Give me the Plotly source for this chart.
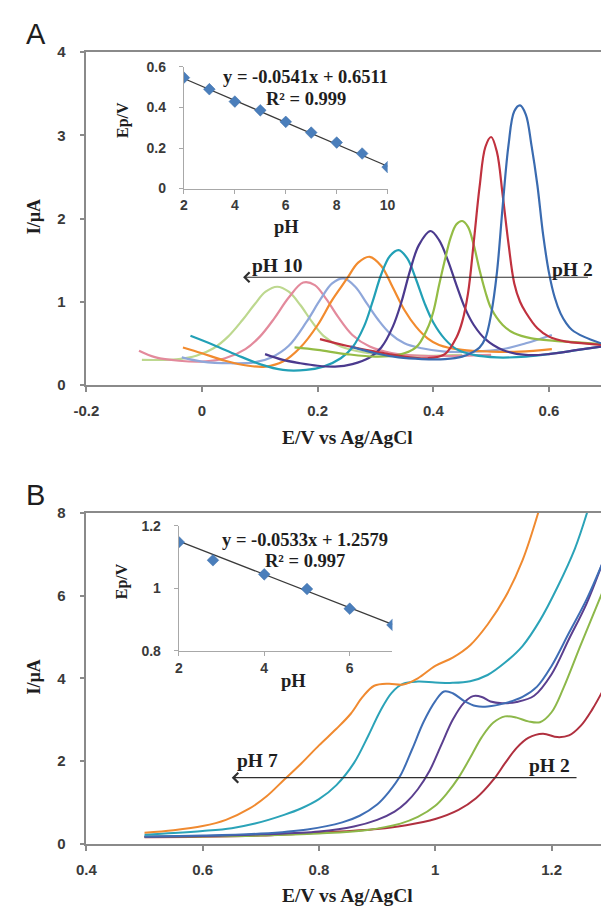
import plotly.graph_objects as go

W, H = 609, 914

# ---------------- Panel A : DPV at pH 2 ... 10 ----------------
a_ph2_E = [0.257, 0.30, 0.34, 0.38, 0.42, 0.45, 0.47, 0.48, 0.49, 0.50, 0.51, 0.52, 0.53, 0.54, 0.55, 0.56, 0.57, 0.58, 0.59, 0.60, 0.61, 0.62, 0.63, 0.64, 0.66, 0.69]
a_ph2_I = [0.46, 0.38, 0.33, 0.31, 0.31, 0.34, 0.40, 0.45, 0.56, 0.85, 1.35, 2.15, 2.88, 3.29, 3.36, 3.25, 2.87, 2.40, 1.80, 1.35, 1.05, 0.86, 0.74, 0.66, 0.58, 0.50]

a_ph3_E = [0.204, 0.25, 0.30, 0.35, 0.39, 0.42, 0.44, 0.45, 0.46, 0.47, 0.48, 0.49, 0.50, 0.51, 0.52, 0.53, 0.54, 0.55, 0.56, 0.58, 0.60, 0.63, 0.66, 0.69]
a_ph3_I = [0.55, 0.47, 0.40, 0.34, 0.32, 0.37, 0.57, 0.76, 1.10, 1.72, 2.38, 2.86, 2.98, 2.80, 2.28, 1.70, 1.22, 1.00, 0.87, 0.68, 0.58, 0.52, 0.50, 0.48]

a_ph4_E = [0.16, 0.20, 0.25, 0.30, 0.34, 0.37, 0.39, 0.40, 0.41, 0.42, 0.43, 0.44, 0.45, 0.46, 0.47, 0.48, 0.49, 0.50, 0.52, 0.54, 0.57, 0.61, 0.65, 0.69]
a_ph4_I = [0.45, 0.42, 0.37, 0.34, 0.36, 0.45, 0.68, 0.88, 1.20, 1.50, 1.77, 1.93, 1.97, 1.90, 1.68, 1.38, 1.12, 0.92, 0.72, 0.62, 0.56, 0.53, 0.51, 0.49]

a_ph5_E = [0.109, 0.14, 0.17, 0.20, 0.23, 0.26, 0.29, 0.31, 0.33, 0.345, 0.36, 0.375, 0.395, 0.41, 0.425, 0.44, 0.455, 0.47, 0.49, 0.52, 0.56, 0.60, 0.65, 0.69]
a_ph5_I = [0.37, 0.30, 0.26, 0.23, 0.22, 0.25, 0.33, 0.45, 0.70, 1.00, 1.38, 1.68, 1.85, 1.74, 1.50, 1.20, 0.92, 0.72, 0.55, 0.42, 0.36, 0.37, 0.42, 0.46]

a_ph6_E = [-0.02, 0.02, 0.06, 0.10, 0.14, 0.18, 0.21, 0.24, 0.26, 0.28, 0.295, 0.31, 0.325, 0.34, 0.355, 0.37, 0.385, 0.40, 0.42, 0.44, 0.47, 0.51, 0.56, 0.61, 0.65, 0.69]
a_ph6_I = [0.59, 0.48, 0.36, 0.25, 0.18, 0.18, 0.22, 0.32, 0.45, 0.70, 1.00, 1.33, 1.55, 1.62, 1.52, 1.27, 0.98, 0.75, 0.55, 0.43, 0.36, 0.33, 0.34, 0.38, 0.42, 0.46]

a_ph7_E = [-0.033, 0.0, 0.04, 0.08, 0.11, 0.14, 0.17, 0.20, 0.225, 0.25, 0.27, 0.29, 0.31, 0.33, 0.35, 0.37, 0.39, 0.41, 0.45, 0.50, 0.55, 0.605]
a_ph7_I = [0.45, 0.38, 0.29, 0.23, 0.22, 0.28, 0.45, 0.72, 1.02, 1.27, 1.47, 1.54, 1.43, 1.17, 0.90, 0.70, 0.56, 0.48, 0.42, 0.40, 0.40, 0.43]

a_ph8_E = [-0.035, 0.0, 0.05, 0.09, 0.12, 0.15, 0.18, 0.205, 0.225, 0.245, 0.265, 0.285, 0.305, 0.325, 0.35, 0.38, 0.42, 0.47, 0.52, 0.56, 0.605]
a_ph8_I = [0.33, 0.28, 0.26, 0.27, 0.33, 0.47, 0.75, 1.03, 1.22, 1.28, 1.18, 0.98, 0.78, 0.62, 0.50, 0.44, 0.40, 0.40, 0.43, 0.50, 0.60]

a_ph9_E = [-0.109, -0.08, -0.04, 0.0, 0.04, 0.075, 0.10, 0.125, 0.15, 0.175, 0.195, 0.215, 0.235, 0.26, 0.29, 0.33, 0.38, 0.45, 0.50]
a_ph9_I = [0.41, 0.33, 0.29, 0.28, 0.32, 0.43, 0.58, 0.80, 1.05, 1.23, 1.20, 1.03, 0.82, 0.60, 0.46, 0.38, 0.35, 0.35, 0.36]

a_ph10_E = [-0.104, -0.07, -0.04, -0.01, 0.02, 0.045, 0.07, 0.09, 0.11, 0.13, 0.15, 0.17, 0.19, 0.21, 0.24, 0.28, 0.33, 0.40, 0.45]
a_ph10_I = [0.30, 0.30, 0.31, 0.35, 0.44, 0.58, 0.78, 0.96, 1.12, 1.18, 1.12, 0.96, 0.76, 0.59, 0.46, 0.39, 0.36, 0.35, 0.36]

a_curves = [
    (a_ph10_E, a_ph10_I, "#BDD88F"),
    (a_ph9_E, a_ph9_I, "#E38A9C"),
    (a_ph8_E, a_ph8_I, "#8FA7DA"),
    (a_ph7_E, a_ph7_I, "#F28B2E"),
    (a_ph6_E, a_ph6_I, "#22A0B6"),
    (a_ph5_E, a_ph5_I, "#4B3A8E"),
    (a_ph4_E, a_ph4_I, "#94BC45"),
    (a_ph3_E, a_ph3_I, "#C0323F"),
    (a_ph2_E, a_ph2_I, "#3A6BB0"),
]

# Inset A: peak potential vs pH
inset_a_ph = [2, 3, 4, 5, 6, 7, 8, 9, 10]
inset_a_ep = [0.547, 0.49, 0.429, 0.386, 0.329, 0.276, 0.227, 0.173, 0.106]
inset_a_slope, inset_a_intercept, inset_a_r2 = -0.0541, 0.6511, 0.999

# ---------------- Panel B : LSV at pH 2 ... 7 ----------------
b_ph7_E = [0.50, 0.55, 0.60, 0.64, 0.68, 0.71, 0.74, 0.77, 0.80, 0.83, 0.855, 0.875, 0.895, 0.92, 0.945, 0.97, 1.00, 1.03, 1.06, 1.09, 1.12, 1.15, 1.177]
b_ph7_I = [0.27, 0.33, 0.43, 0.58, 0.85, 1.15, 1.55, 1.95, 2.38, 2.78, 3.15, 3.55, 3.82, 3.87, 3.85, 4.00, 4.30, 4.50, 4.80, 5.30, 5.95, 6.85, 8.0]

b_ph6_E = [0.50, 0.55, 0.60, 0.65, 0.69, 0.74, 0.77, 0.80, 0.83, 0.86, 0.885, 0.905, 0.925, 0.945, 0.97, 1.00, 1.03, 1.06, 1.09, 1.12, 1.15, 1.18, 1.21, 1.24, 1.261]
b_ph6_I = [0.22, 0.26, 0.31, 0.38, 0.49, 0.70, 0.86, 1.08, 1.42, 1.95, 2.62, 3.20, 3.65, 3.87, 3.92, 3.90, 3.89, 3.93, 4.08, 4.38, 4.78, 5.40, 6.20, 7.13, 8.0]

b_ph5_E = [0.50, 0.60, 0.70, 0.78, 0.84, 0.87, 0.90, 0.92, 0.94, 0.96, 0.98, 1.00, 1.015, 1.03, 1.05, 1.07, 1.09, 1.12, 1.15, 1.175, 1.20, 1.23, 1.26, 1.288]
b_ph5_I = [0.18, 0.20, 0.25, 0.35, 0.52, 0.68, 0.95, 1.25, 1.65, 2.28, 2.95, 3.45, 3.68, 3.64, 3.45, 3.33, 3.32, 3.40, 3.55, 3.80, 4.30, 5.10, 5.90, 6.80]

b_ph4_E = [0.50, 0.60, 0.70, 0.80, 0.86, 0.90, 0.93, 0.95, 0.97, 0.99, 1.01, 1.03, 1.05, 1.065, 1.08, 1.095, 1.115, 1.14, 1.17, 1.20, 1.23, 1.26, 1.288]
b_ph4_I = [0.17, 0.19, 0.23, 0.30, 0.42, 0.58, 0.78, 1.00, 1.32, 1.76, 2.38, 3.00, 3.42, 3.57, 3.55, 3.44, 3.40, 3.43, 3.58, 4.10, 4.95, 5.80, 6.80]

b_ph3_E = [0.50, 0.60, 0.70, 0.80, 0.88, 0.94, 0.97, 1.00, 1.02, 1.04, 1.06, 1.08, 1.10, 1.12, 1.14, 1.16, 1.18, 1.20, 1.22, 1.25, 1.288]
b_ph3_I = [0.17, 0.18, 0.20, 0.25, 0.33, 0.49, 0.65, 0.92, 1.22, 1.60, 2.08, 2.58, 2.93, 3.08, 3.05, 2.96, 2.94, 3.18, 3.75, 4.80, 6.10]

b_ph2_E = [0.50, 0.60, 0.70, 0.80, 0.90, 0.95, 1.00, 1.04, 1.07, 1.10, 1.12, 1.14, 1.16, 1.185, 1.21, 1.23, 1.25, 1.27, 1.288]
b_ph2_I = [0.16, 0.17, 0.20, 0.27, 0.36, 0.45, 0.60, 0.82, 1.10, 1.55, 1.95, 2.32, 2.56, 2.66, 2.58, 2.62, 2.85, 3.25, 3.70]

b_curves = [
    (b_ph2_E, b_ph2_I, "#B0303F"),
    (b_ph3_E, b_ph3_I, "#8DB84A"),
    (b_ph4_E, b_ph4_I, "#5B3F8F"),
    (b_ph5_E, b_ph5_I, "#3F6EB5"),
    (b_ph6_E, b_ph6_I, "#2BA3B8"),
    (b_ph7_E, b_ph7_I, "#F08A30"),
]

# Inset B: peak potential vs pH
inset_b_ph = [2, 2.8, 4, 5, 6, 7]
inset_b_ep = [1.148, 1.09, 1.045, 0.998, 0.935, 0.883]
inset_b_slope, inset_b_intercept, inset_b_r2 = -0.0533, 1.2579, 0.997


def px(x):
    return x / W


def py(y):
    return 1 - y / H


fig = go.Figure()

for e, i, c in a_curves:
    fig.add_trace(go.Scatter(x=e, y=i, mode="lines", xaxis="x", yaxis="y",
                             line=dict(color=c, width=2.2, shape="spline", smoothing=1.0),
                             showlegend=False, hoverinfo="skip"))

for e, i, c in b_curves:
    fig.add_trace(go.Scatter(x=e, y=i, mode="lines", xaxis="x2", yaxis="y2",
                             line=dict(color=c, width=2, shape="spline", smoothing=1.0),
                             showlegend=False, hoverinfo="skip"))

# insets: trend line from the stated regression, then the measured points
for ph, ep, slope, icpt, xa, ya in [
    (inset_a_ph, inset_a_ep, inset_a_slope, inset_a_intercept, "x3", "y3"),
    (inset_b_ph, inset_b_ep, inset_b_slope, inset_b_intercept, "x4", "y4"),
]:
    xs = [min(ph), max(ph)]
    fig.add_trace(go.Scatter(x=xs, y=[slope * v + icpt for v in xs], mode="lines",
                             xaxis=xa, yaxis=ya, line=dict(color="#3a3a3a", width=1.3),
                             showlegend=False, hoverinfo="skip"))
    fig.add_trace(go.Scatter(x=ph, y=ep, mode="markers", xaxis=xa, yaxis=ya,
                             marker=dict(symbol="diamond", size=9, color="#4A7EBB",
                                         line=dict(color="#3B6DA8", width=0.5)),
                             showlegend=False, hoverinfo="skip"))

tick_font = dict(family="Liberation Sans", size=15, color="#3a3a3a", weight="bold")
inset_tick_font = dict(family="Liberation Sans", size=14, color="#3a3a3a", weight="bold")
axis_common = dict(showgrid=False, zeroline=False, showline=True, linecolor="#8a8a8a",
                   linewidth=1.5, ticks="outside", ticklen=5, tickcolor="#8a8a8a",
                   tickwidth=1.5, tickfont=tick_font)
inset_common = dict(showgrid=False, zeroline=False, showline=True, linecolor="#a8a8a8",
                    linewidth=1.2, ticks="outside", ticklen=4, tickcolor="#a8a8a8",
                    tickwidth=1.2, tickfont=inset_tick_font)

fig.update_layout(
    width=W, height=H, margin=dict(l=0, r=0, t=0, b=0),
    paper_bgcolor="white", plot_bgcolor="white",
    xaxis=dict(axis_common, domain=[px(76), 1], range=[-0.2, 0.69], anchor="y",
               tickvals=[-0.2, 0, 0.2, 0.4, 0.6], ticktext=["-0.2", "0", "0.2", "0.4", "0.6"],
               mirror=True, ticklabelstandoff=6),
    yaxis=dict(axis_common, domain=[py(383), py(44)], range=[0, 4], anchor="x",
               tickvals=[0, 1, 2, 3, 4], ticklabelstandoff=11),
    xaxis2=dict(axis_common, domain=[px(76), 1], range=[0.4, 1.285], anchor="y2",
                tickvals=[0.4, 0.6, 0.8, 1.0, 1.2], ticktext=["0.4", "0.6", "0.8", "1", "1.2"],
                mirror=True, ticklabelstandoff=6),
    yaxis2=dict(axis_common, domain=[py(850.7), py(513.3)], range=[0, 8], anchor="x2",
                tickvals=[0, 2, 4, 6, 8], ticklabelstandoff=11),
    xaxis3=dict(inset_common, domain=[px(177), px(388)], range=[2, 10], anchor="y3",
                tickvals=[2, 4, 6, 8, 10], ticklabelstandoff=0),
    yaxis3=dict(inset_common, domain=[py(183), py(59)], range=[0, 0.6], anchor="x3",
                tickvals=[0, 0.2, 0.4, 0.6], ticktext=["0", "0.2", "0.4", "0.6"],
                ticklabelstandoff=10),
    xaxis4=dict(inset_common, domain=[px(171.7), px(393)], range=[2, 7], anchor="y4",
                tickvals=[2, 4, 6], ticklabelstandoff=0),
    yaxis4=dict(inset_common, domain=[py(654), py(526.7)], range=[0.8, 1.2], anchor="x4",
                tickvals=[0.8, 1.0, 1.2], ticktext=["0.8", "1", "1.2"], ticklabelstandoff=10),
)

serif = "Liberation Serif"
ann = []


def label(text, x, y, size, family=serif, bold=True, angle=0):
    ann.append(dict(text=text, x=px(x), y=py(y), xref="paper", yref="paper",
                    showarrow=False, textangle=angle, xanchor="center", yanchor="middle",
                    font=dict(family=family, size=size, color="#1e1e1e",
                              weight="bold" if bold else "normal")))


label("A", 24, 25, 29, family="Liberation Sans", bold=False)
label("B", 23, 495, 29, family="Liberation Sans", bold=False)
label("I/µA", 22, 212, 18, angle=-90)
label("I/µA", 22, 681, 18, angle=-90)
label("E/V vs Ag/AgCl", 346, 437, 19.5)
label("E/V vs Ag/AgCl", 346, 903, 19.5)
label("Ep/V", 114, 113, 16, angle=-90)
label("Ep/V", 112.5, 583.5, 16, angle=-90)
label("pH", 283, 222, 18.5)
label("pH", 290, 685, 18.5)
label(f"y = {inset_a_slope}x + {inset_a_intercept}", 303, 69, 18.5)
label(f"R² = {inset_a_r2}", 303, 92, 18.5)
label(f"y = {inset_b_slope}x + {inset_b_intercept}", 302.5, 541.5, 18.5)
label(f"R² = {inset_b_r2}", 302.5, 562.5, 18.5)
label("pH 10", 273, 261, 19.5)
label("pH 2", 579, 265, 19.5)
label("pH 7", 253, 766, 19.5)
label("pH 2", 556, 771, 19.5)

# shift arrows: pH 2 -> pH 10 (A) and pH 2 -> pH 7 (B)
for xa, ya, x_tip, x_tail, yv in [("x", "y", 0.071, 0.670, 1.294), ("x2", "y2", 0.650, 1.2455, 1.60)]:
    ann.append(dict(x=x_tip, y=yv, ax=x_tail, ay=yv, xref=xa, yref=ya, axref=xa, ayref=ya,
                    text="", showarrow=True, arrowhead=4, arrowsize=1.6, arrowwidth=1.2,
                    arrowcolor="#2e2e2e"))

fig.update_layout(annotations=ann)
fig.write_html("out.html")
